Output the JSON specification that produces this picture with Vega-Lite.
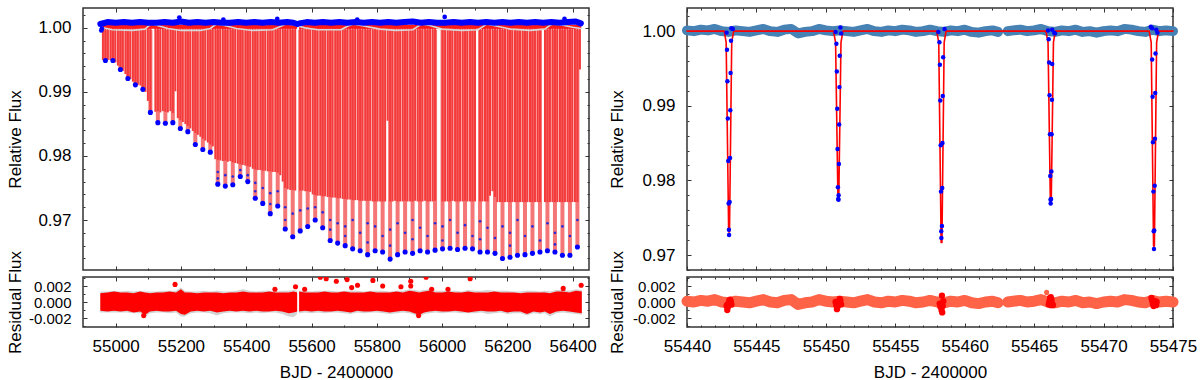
{
"$schema": "https://vega.github.io/schema/vega-lite/v6.json",
"background": "white",
"padding": {"left": 5, "top": 5, "right": 5, "bottom": 5},
"config": {
 "font": "Liberation Sans",
 "view": {"stroke": "#333333", "strokeWidth": 1.5},
 "axis": {"grid": false, "domain": false, "labelFontSize": 17, "titleFontSize": 17, "titleFontWeight": "normal", "labelColor": "#000000", "titleColor": "#000000", "tickColor": "#333333", "tickWidth": 1, "labelOverlap": false, "labelFlush": false},
 "line": {"strokeCap": "round", "strokeJoin": "round"}
},
"datasets": {
 "bars": [
{"t":54961,"d":0.995},{"t":54968.7,"d":0.995},{"t":54976.3,"d":0.995},{"t":54984,"d":0.995},{"t":54991.6,"d":0.995},{"t":54999.3,"d":0.9946},{"t":55006.9,"d":0.9941},{"t":55014.6,"d":0.9937},{"t":55022.2,"d":0.9933},{"t":55029.9,"d":0.9928},{"t":55037.5,"d":0.9924},{"t":55045.2,"d":0.992},{"t":55052.8,"d":0.9916},{"t":55060.5,"d":0.9913},{"t":55068.1,"d":0.9911},{"t":55075.8,"d":0.991},{"t":55083.4,"d":0.9907},{"t":55091.1,"d":0.99},{"t":55098.7,"d":0.9886},{"t":55106.4,"d":0.9871},
{"t":55121.7,"d":0.9869},{"t":55129.3,"d":0.987},{"t":55137,"d":0.9868},{"t":55144.6,"d":0.987},{"t":55152.3,"d":0.9869},{"t":55159.9,"d":0.9868},{"t":55167.6,"d":0.987},{"t":55175.2,"d":0.9867},{"t":55182.9,"d":0.9901},{"t":55190.5,"d":0.9859},{"t":55198.2,"d":0.9856},{"t":55205.8,"d":0.9853},{"t":55213.5,"d":0.985},{"t":55221.1,"d":0.9847},{"t":55228.8,"d":0.9843},{"t":55236.4,"d":0.9839},{"t":55244.1,"d":0.9836},{"t":55251.7,"d":0.9833},{"t":55259.4,"d":0.983},{"t":55267,"d":0.9827},{"t":55274.7,"d":0.9824},{"t":55282.3,"d":0.9821},{"t":55290,"d":0.9818},{"t":55297.6,"d":0.9815},
{"t":55305.3,"d":0.9795},{"t":55312.9,"d":0.9794},{"t":55320.6,"d":0.9793},{"t":55328.2,"d":0.9792},{"t":55335.9,"d":0.9793},{"t":55343.5,"d":0.9791},{"t":55351.2,"d":0.9792},{"t":55358.8,"d":0.979},{"t":55366.5,"d":0.9789},{"t":55374.1,"d":0.9788},{"t":55381.8,"d":0.9787},{"t":55389.4,"d":0.9786},{"t":55397.1,"d":0.9785},{"t":55404.7,"d":0.9784},{"t":55412.4,"d":0.9783},{"t":55420,"d":0.978},{"t":55427.7,"d":0.9779},{"t":55435.3,"d":0.9778},{"t":55443,"d":0.9778},{"t":55450.6,"d":0.9777},{"t":55458.3,"d":0.9777},{"t":55465.9,"d":0.9776},{"t":55473.6,"d":0.9776},{"t":55481.2,"d":0.9775},{"t":55488.9,"d":0.9775},{"t":55496.5,"d":0.9774},{"t":55504.2,"d":0.977},{"t":55511.8,"d":0.976},{"t":55519.5,"d":0.975},{"t":55527.1,"d":0.9748},{"t":55534.8,"d":0.9747},{"t":55542.4,"d":0.9747},{"t":55550.1,"d":0.9746},
{"t":55565.4,"d":0.9746},{"t":55573,"d":0.9746},{"t":55580.7,"d":0.9745},{"t":55588.3,"d":0.9745},{"t":55596,"d":0.9744},{"t":55603.6,"d":0.974},{"t":55611.3,"d":0.9739},{"t":55618.9,"d":0.9738},{"t":55626.6,"d":0.9738},{"t":55634.2,"d":0.9737},{"t":55641.9,"d":0.9737},{"t":55649.5,"d":0.9736},{"t":55657.2,"d":0.9736},{"t":55664.8,"d":0.9735},{"t":55672.5,"d":0.9735},{"t":55680.1,"d":0.9734},{"t":55687.8,"d":0.9734},{"t":55695.4,"d":0.9733},{"t":55703.1,"d":0.9733},{"t":55710.7,"d":0.9732},{"t":55718.4,"d":0.9732},{"t":55726,"d":0.9731},{"t":55733.7,"d":0.9731},{"t":55741.3,"d":0.9731},{"t":55749,"d":0.973},{"t":55756.6,"d":0.973},{"t":55764.3,"d":0.973},{"t":55771.9,"d":0.973},{"t":55779.6,"d":0.973},{"t":55787.2,"d":0.9729},{"t":55794.9,"d":0.9729},{"t":55802.5,"d":0.9729},{"t":55810.2,"d":0.9729},{"t":55817.8,"d":0.9729},{"t":55825.5,"d":0.9729},{"t":55833.1,"d":0.9855},{"t":55840.8,"d":0.9729},{"t":55848.4,"d":0.9729},{"t":55856.1,"d":0.973},{"t":55863.7,"d":0.9729},{"t":55871.4,"d":0.9729},{"t":55879,"d":0.9729},{"t":55886.7,"d":0.973},{"t":55894.3,"d":0.9729},{"t":55902,"d":0.9729},{"t":55909.6,"d":0.9729},{"t":55917.3,"d":0.973},{"t":55924.9,"d":0.9729},{"t":55932.6,"d":0.9729},{"t":55940.2,"d":0.9729},{"t":55947.9,"d":0.973},{"t":55955.5,"d":0.9729},{"t":55963.2,"d":0.9729},{"t":55970.8,"d":0.9729},{"t":55978.5,"d":0.973},
{"t":56001.4,"d":0.9729},{"t":56009.1,"d":0.9729},{"t":56016.7,"d":0.9729},{"t":56024.4,"d":0.9729},{"t":56032,"d":0.973},{"t":56039.7,"d":0.9729},{"t":56047.3,"d":0.9729},{"t":56055,"d":0.9729},{"t":56062.6,"d":0.9729},{"t":56070.3,"d":0.973},{"t":56077.9,"d":0.9729},{"t":56085.6,"d":0.9729},{"t":56093.2,"d":0.9729},{"t":56100.9,"d":0.9729},{"t":56116.2,"d":0.9729},{"t":56123.8,"d":0.9729},{"t":56131.5,"d":0.9729},{"t":56139.1,"d":0.9729},{"t":56146.8,"d":0.9738},{"t":56154.4,"d":0.9745},{"t":56162.1,"d":0.9736},{"t":56169.7,"d":0.9728},{"t":56177.4,"d":0.9728},{"t":56185,"d":0.9728},{"t":56192.7,"d":0.9728},{"t":56200.3,"d":0.9728},{"t":56208,"d":0.9728},{"t":56215.6,"d":0.9728},{"t":56223.3,"d":0.9728},{"t":56230.9,"d":0.9728},{"t":56238.6,"d":0.9728},{"t":56246.2,"d":0.9728},{"t":56253.9,"d":0.9728},{"t":56261.5,"d":0.9728},{"t":56269.2,"d":0.9728},{"t":56276.8,"d":0.9728},{"t":56284.5,"d":0.9728},{"t":56292.1,"d":0.9728},{"t":56299.8,"d":0.9728},{"t":56315.1,"d":0.9728},{"t":56322.7,"d":0.9728},{"t":56330.4,"d":0.9728},{"t":56338,"d":0.9728},{"t":56345.7,"d":0.9728},{"t":56353.3,"d":0.9728},{"t":56361,"d":0.9728},{"t":56368.6,"d":0.9728},{"t":56376.3,"d":0.9728},{"t":56383.9,"d":0.9728},{"t":56391.6,"d":0.9728},{"t":56399.2,"d":0.9728},{"t":56406.9,"d":0.9728},{"t":56414.5,"d":0.9728},{"t":56422.2,"d":0.9935}
 ],
 "deep": [
{"t":54968.7,"d":0.9949},{"t":54991.6,"d":0.9949},{"t":55014.6,"d":0.9935},{"t":55037.5,"d":0.9921},{"t":55060.5,"d":0.9911},{"t":55083.4,"d":0.9904},{"t":55106.4,"d":0.9868},{"t":55129.3,"d":0.9852},{"t":55152.3,"d":0.9851},{"t":55175.2,"d":0.9852},{"t":55198.2,"d":0.9843},{"t":55221.1,"d":0.9838},{"t":55244.1,"d":0.9818},{"t":55267,"d":0.981},{"t":55290,"d":0.9806},{"t":55312.9,"d":0.9756},{"t":55335.9,"d":0.9753},{"t":55358.8,"d":0.9755},{"t":55381.8,"d":0.9768},{"t":55404.7,"d":0.976},{"t":55427.7,"d":0.9734},{"t":55450.6,"d":0.9726},{"t":55473.6,"d":0.971},{"t":55496.5,"d":0.9722},{"t":55519.5,"d":0.9686},{"t":55542.4,"d":0.9674},{"t":55565.4,"d":0.9683},{"t":55588.3,"d":0.969},{"t":55611.3,"d":0.97},{"t":55634.2,"d":0.9688},{"t":55657.2,"d":0.9668},{"t":55680.1,"d":0.9664},{"t":55703.1,"d":0.966},{"t":55726,"d":0.9655},{"t":55749,"d":0.9652},{"t":55771.9,"d":0.9646},{"t":55794.9,"d":0.9652},{"t":55817.8,"d":0.965},{"t":55840.8,"d":0.9639},{"t":55863.7,"d":0.9646},{"t":55886.7,"d":0.965},{"t":55909.6,"d":0.9648},{"t":55932.6,"d":0.9652},{"t":55955.5,"d":0.965},{"t":55978.5,"d":0.9653},{"t":56001.4,"d":0.9655},{"t":56024.4,"d":0.9656},{"t":56047.3,"d":0.9654},{"t":56070.3,"d":0.9656},{"t":56093.2,"d":0.9655},{"t":56116.2,"d":0.965},{"t":56139.1,"d":0.965},{"t":56162.1,"d":0.9648},{"t":56185,"d":0.964},{"t":56208,"d":0.9642},{"t":56230.9,"d":0.9645},{"t":56253.9,"d":0.9646},{"t":56276.8,"d":0.9648},{"t":56299.8,"d":0.965},{"t":56322.7,"d":0.9652},{"t":56345.7,"d":0.965},{"t":56368.6,"d":0.9645},{"t":56391.6,"d":0.9645},{"t":56414.5,"d":0.9658}
 ],
 "mid": [
{"t":55312.9,"f":0.9775},{"t":55312.9,"f":0.9765},{"t":55335.9,"f":0.977},{"t":55358.8,"f":0.9768},{"t":55381.8,"f":0.9778},{"t":55404.7,"f":0.977},{"t":55427.7,"f":0.9758},{"t":55427.7,"f":0.9745},{"t":55450.6,"f":0.975},{"t":55473.6,"f":0.9742},{"t":55473.6,"f":0.9725},{"t":55496.5,"f":0.9745},{"t":55519.5,"f":0.972},{"t":55519.5,"f":0.97},{"t":55542.4,"f":0.971},{"t":55565.4,"f":0.9715},{"t":55588.3,"f":0.9718},{"t":55611.3,"f":0.972},{"t":55634.2,"f":0.9712},{"t":55657.2,"f":0.97},{"t":55657.2,"f":0.9685},{"t":55680.1,"f":0.9695},{"t":55703.1,"f":0.969},{"t":55703.1,"f":0.9675},{"t":55726,"f":0.97},{"t":55749,"f":0.968},{"t":55771.9,"f":0.9695},{"t":55771.9,"f":0.9665},{"t":55794.9,"f":0.969},{"t":55817.8,"f":0.9675},{"t":55840.8,"f":0.9685},{"t":55840.8,"f":0.966},{"t":55863.7,"f":0.9695},{"t":55886.7,"f":0.968},{"t":55909.6,"f":0.97},{"t":55909.6,"f":0.967},{"t":55932.6,"f":0.9688},{"t":55955.5,"f":0.9675},{"t":55978.5,"f":0.9695},{"t":56001.4,"f":0.969},{"t":56001.4,"f":0.9668},{"t":56024.4,"f":0.97},{"t":56047.3,"f":0.968},{"t":56070.3,"f":0.9692},{"t":56093.2,"f":0.9675},{"t":56116.2,"f":0.9698},{"t":56116.2,"f":0.967},{"t":56139.1,"f":0.9688},{"t":56162.1,"f":0.9672},{"t":56185,"f":0.969},{"t":56208,"f":0.968},{"t":56208,"f":0.966},{"t":56230.9,"f":0.97},{"t":56253.9,"f":0.9675},{"t":56276.8,"f":0.969},{"t":56299.8,"f":0.9668},{"t":56322.7,"f":0.9695},{"t":56345.7,"f":0.968},{"t":56345.7,"f":0.9662},{"t":56368.6,"f":0.969},{"t":56391.6,"f":0.9675},{"t":56414.5,"f":0.97}
 ],
 "redband": [{"t1":54955,"t2":55556},{"t1":55562,"t2":56426}],
 "wave": [
{"t":54955,"f":1.0001},{"t":54990,"f":0.9997},{"t":55050,"f":0.9996},{"t":55090,"f":0.9998},{"t":55108,"f":1.0006},{"t":55125,"f":1.0004},{"t":55160,"f":0.9999},{"t":55200,"f":0.9996},{"t":55260,"f":0.9996},{"t":55290,"f":0.9999},{"t":55308,"f":1.0006},{"t":55330,"f":1.0004},{"t":55370,"f":0.9999},{"t":55420,"f":0.9996},{"t":55480,"f":0.9997},{"t":55505,"f":1.0002},{"t":55520,"f":1.0006},{"t":55545,"f":1.0005},{"t":55558,"f":1.0003},{"t":55580,"f":1.0},{"t":55620,"f":0.9997},{"t":55690,"f":0.9997},{"t":55712,"f":1.0003},{"t":55728,"f":1.0006},{"t":55760,"f":1.0003},{"t":55810,"f":0.9998},{"t":55860,"f":0.9996},{"t":55910,"f":0.9997},{"t":55925,"f":1.0002},{"t":55937,"f":1.0006},{"t":55960,"f":1.0004},{"t":56000,"f":0.9998},{"t":56060,"f":0.9996},{"t":56110,"f":0.9997},{"t":56125,"f":1.0002},{"t":56137,"f":1.0006},{"t":56165,"f":1.0003},{"t":56210,"f":0.9998},{"t":56270,"f":0.9996},{"t":56315,"f":0.9998},{"t":56330,"f":1.0004},{"t":56340,"f":1.0006},{"t":56370,"f":1.0004},{"t":56400,"f":1.0001},{"t":56425,"f":0.9999}
 ],
 "topband": [
{"t":54953,"f":1.0006,"s":1},{"t":54975,"f":1.0009,"s":1},{"t":55000,"f":1.0008,"s":1},{"t":55025,"f":1.0009,"s":1},{"t":55050,"f":1.0008,"s":1},{"t":55075,"f":1.0009,"s":1},{"t":55100,"f":1.0008,"s":1},{"t":55125,"f":1.0008,"s":1},{"t":55150,"f":1.0009,"s":1},{"t":55175,"f":1.0008,"s":1},{"t":55200,"f":1.001,"s":1},{"t":55225,"f":1.0008,"s":1},{"t":55250,"f":1.0009,"s":1},{"t":55275,"f":1.0008,"s":1},{"t":55300,"f":1.0009,"s":1},{"t":55325,"f":1.0008,"s":1},{"t":55350,"f":1.0008,"s":1},{"t":55375,"f":1.0009,"s":1},{"t":55400,"f":1.0008,"s":1},{"t":55425,"f":1.0009,"s":1},{"t":55450,"f":1.0008,"s":1},{"t":55475,"f":1.0009,"s":1},{"t":55500,"f":1.0008,"s":1},{"t":55525,"f":1.0009,"s":1},{"t":55545,"f":1.0008,"s":1},{"t":55556,"f":1.0006,"s":1},
{"t":55562,"f":1.0007,"s":2},{"t":55585,"f":1.0009,"s":2},{"t":55610,"f":1.0008,"s":2},{"t":55635,"f":1.0009,"s":2},{"t":55660,"f":1.0008,"s":2},{"t":55685,"f":1.0009,"s":2},{"t":55710,"f":1.0008,"s":2},{"t":55735,"f":1.0009,"s":2},{"t":55760,"f":1.0008,"s":2},{"t":55785,"f":1.0009,"s":2},{"t":55810,"f":1.0008,"s":2},{"t":55835,"f":1.0009,"s":2},{"t":55860,"f":1.0008,"s":2},{"t":55885,"f":1.0009,"s":2},{"t":55910,"f":1.001,"s":2},{"t":55935,"f":1.0008,"s":2},{"t":55960,"f":1.0009,"s":2},{"t":55985,"f":1.0008,"s":2},{"t":56010,"f":1.0008,"s":2},{"t":56035,"f":1.0009,"s":2},{"t":56060,"f":1.0008,"s":2},{"t":56085,"f":1.0009,"s":2},{"t":56110,"f":1.0008,"s":2},{"t":56135,"f":1.0009,"s":2},{"t":56160,"f":1.0008,"s":2},{"t":56185,"f":1.0009,"s":2},{"t":56210,"f":1.0008,"s":2},{"t":56235,"f":1.0009,"s":2},{"t":56260,"f":1.0008,"s":2},{"t":56285,"f":1.0009,"s":2},{"t":56310,"f":1.0008,"s":2},{"t":56335,"f":1.0009,"s":2},{"t":56360,"f":1.0008,"s":2},{"t":56385,"f":1.0009,"s":2},{"t":56410,"f":1.001,"s":2},{"t":56425,"f":1.0007,"s":2}
 ],
 "topout": [
{"t":55195,"f":1.0016},{"t":55330,"f":1.0013},{"t":55495,"f":1.0014},{"t":55740,"f":1.0013},{"t":56008,"f":1.0017},{"t":56375,"f":1.0014},{"t":54956,"f":0.9996},{"t":54958,"f":0.9999}
 ],
 "resL": [
{"t":54953,"lo":-0.0011,"hi":0.0011,"glo":-0.0013,"ghi":0.0013,"s":1},
{"t":54975,"lo":-0.0012,"hi":0.0012,"glo":-0.0013,"ghi":0.0013,"s":1},
{"t":54995,"lo":-0.0011,"hi":0.0013,"glo":-0.0013,"ghi":0.0014,"s":1},
{"t":55015,"lo":-0.0012,"hi":0.0012,"glo":-0.0013,"ghi":0.0013,"s":1},
{"t":55035,"lo":-0.0011,"hi":0.0012,"glo":-0.0013,"ghi":0.0014,"s":1},
{"t":55055,"lo":-0.0013,"hi":0.0011,"glo":-0.0014,"ghi":0.0013,"s":1},
{"t":55075,"lo":-0.0012,"hi":0.0013,"glo":-0.0014,"ghi":0.0014,"s":1},
{"t":55090,"lo":-0.0016,"hi":0.0012,"glo":-0.0019,"ghi":0.0013,"s":1},
{"t":55105,"lo":-0.0012,"hi":0.0011,"glo":-0.0014,"ghi":0.0013,"s":1},
{"t":55125,"lo":-0.0011,"hi":0.0012,"glo":-0.0013,"ghi":0.0013,"s":1},
{"t":55145,"lo":-0.0012,"hi":0.0012,"glo":-0.0013,"ghi":0.0014,"s":1},
{"t":55165,"lo":-0.0012,"hi":0.0013,"glo":-0.0014,"ghi":0.0014,"s":1},
{"t":55185,"lo":-0.0011,"hi":0.0012,"glo":-0.0013,"ghi":0.0014,"s":1},
{"t":55200,"lo":-0.0015,"hi":0.0016,"glo":-0.0018,"ghi":0.0018,"s":1},
{"t":55212,"lo":-0.0016,"hi":0.0012,"glo":-0.0018,"ghi":0.0014,"s":1},
{"t":55230,"lo":-0.0012,"hi":0.0012,"glo":-0.0014,"ghi":0.0013,"s":1},
{"t":55250,"lo":-0.0011,"hi":0.0011,"glo":-0.0013,"ghi":0.0013,"s":1},
{"t":55270,"lo":-0.0012,"hi":0.0012,"glo":-0.0013,"ghi":0.0014,"s":1},
{"t":55290,"lo":-0.0011,"hi":0.0012,"glo":-0.0014,"ghi":0.0013,"s":1},
{"t":55310,"lo":-0.0013,"hi":0.0012,"glo":-0.0017,"ghi":0.0014,"s":1},
{"t":55330,"lo":-0.0012,"hi":0.0011,"glo":-0.0014,"ghi":0.0013,"s":1},
{"t":55350,"lo":-0.0011,"hi":0.0012,"glo":-0.0013,"ghi":0.0013,"s":1},
{"t":55370,"lo":-0.0012,"hi":0.0012,"glo":-0.0013,"ghi":0.0014,"s":1},
{"t":55390,"lo":-0.0011,"hi":0.0013,"glo":-0.0013,"ghi":0.0016,"s":1},
{"t":55410,"lo":-0.0012,"hi":0.0012,"glo":-0.0014,"ghi":0.0014,"s":1},
{"t":55430,"lo":-0.0011,"hi":0.0012,"glo":-0.0013,"ghi":0.0013,"s":1},
{"t":55450,"lo":-0.0012,"hi":0.0012,"glo":-0.0014,"ghi":0.0014,"s":1},
{"t":55470,"lo":-0.0012,"hi":0.0013,"glo":-0.0013,"ghi":0.0014,"s":1},
{"t":55490,"lo":-0.0011,"hi":0.0012,"glo":-0.0013,"ghi":0.0013,"s":1},
{"t":55510,"lo":-0.0012,"hi":0.0012,"glo":-0.0015,"ghi":0.0014,"s":1},
{"t":55530,"lo":-0.0014,"hi":0.0012,"glo":-0.0018,"ghi":0.0014,"s":1},
{"t":55545,"lo":-0.0013,"hi":0.0013,"glo":-0.0019,"ghi":0.0015,"s":1},
{"t":55556,"lo":-0.0012,"hi":0.0012,"glo":-0.0015,"ghi":0.0014,"s":1},
{"t":55562,"lo":-0.0012,"hi":0.0013,"glo":-0.0014,"ghi":0.0014,"s":2},
{"t":55580,"lo":-0.0011,"hi":0.0012,"glo":-0.0013,"ghi":0.0014,"s":2},
{"t":55600,"lo":-0.0012,"hi":0.0012,"glo":-0.0014,"ghi":0.0013,"s":2},
{"t":55620,"lo":-0.0011,"hi":0.0012,"glo":-0.0013,"ghi":0.0014,"s":2},
{"t":55640,"lo":-0.0012,"hi":0.0013,"glo":-0.0014,"ghi":0.0014,"s":2},
{"t":55660,"lo":-0.0012,"hi":0.0012,"glo":-0.0013,"ghi":0.0014,"s":2},
{"t":55680,"lo":-0.0011,"hi":0.0012,"glo":-0.0013,"ghi":0.0013,"s":2},
{"t":55700,"lo":-0.0012,"hi":0.0013,"glo":-0.0014,"ghi":0.0014,"s":2},
{"t":55720,"lo":-0.0013,"hi":0.0012,"glo":-0.0015,"ghi":0.0014,"s":2},
{"t":55740,"lo":-0.0011,"hi":0.0012,"glo":-0.0013,"ghi":0.0014,"s":2},
{"t":55760,"lo":-0.0012,"hi":0.0012,"glo":-0.0014,"ghi":0.0013,"s":2},
{"t":55780,"lo":-0.0012,"hi":0.0013,"glo":-0.0013,"ghi":0.0014,"s":2},
{"t":55800,"lo":-0.0011,"hi":0.0012,"glo":-0.0013,"ghi":0.0014,"s":2},
{"t":55820,"lo":-0.0012,"hi":0.0012,"glo":-0.0014,"ghi":0.0014,"s":2},
{"t":55840,"lo":-0.0013,"hi":0.0012,"glo":-0.0015,"ghi":0.0013,"s":2},
{"t":55860,"lo":-0.0012,"hi":0.0013,"glo":-0.0014,"ghi":0.0014,"s":2},
{"t":55880,"lo":-0.0011,"hi":0.0012,"glo":-0.0013,"ghi":0.0014,"s":2},
{"t":55900,"lo":-0.0012,"hi":0.0014,"glo":-0.0014,"ghi":0.0016,"s":2},
{"t":55915,"lo":-0.0014,"hi":0.0013,"glo":-0.0016,"ghi":0.0015,"s":2},
{"t":55930,"lo":-0.0016,"hi":0.0012,"glo":-0.0019,"ghi":0.0014,"s":2},
{"t":55945,"lo":-0.0013,"hi":0.0013,"glo":-0.0015,"ghi":0.0015,"s":2},
{"t":55960,"lo":-0.0012,"hi":0.0014,"glo":-0.0014,"ghi":0.0016,"s":2},
{"t":55980,"lo":-0.0011,"hi":0.0012,"glo":-0.0013,"ghi":0.0014,"s":2},
{"t":56000,"lo":-0.0012,"hi":0.0012,"glo":-0.0014,"ghi":0.0014,"s":2},
{"t":56020,"lo":-0.0012,"hi":0.0013,"glo":-0.0013,"ghi":0.0014,"s":2},
{"t":56040,"lo":-0.0011,"hi":0.0012,"glo":-0.0013,"ghi":0.0014,"s":2},
{"t":56060,"lo":-0.0012,"hi":0.0012,"glo":-0.0014,"ghi":0.0013,"s":2},
{"t":56080,"lo":-0.0013,"hi":0.0013,"glo":-0.0014,"ghi":0.0015,"s":2},
{"t":56100,"lo":-0.0012,"hi":0.0012,"glo":-0.0014,"ghi":0.0014,"s":2},
{"t":56120,"lo":-0.0011,"hi":0.0012,"glo":-0.0013,"ghi":0.0014,"s":2},
{"t":56140,"lo":-0.0012,"hi":0.0012,"glo":-0.0015,"ghi":0.0015,"s":2},
{"t":56160,"lo":-0.0012,"hi":0.0013,"glo":-0.0014,"ghi":0.0014,"s":2},
{"t":56180,"lo":-0.0011,"hi":0.0012,"glo":-0.0013,"ghi":0.0014,"s":2},
{"t":56200,"lo":-0.0013,"hi":0.0012,"glo":-0.0015,"ghi":0.0014,"s":2},
{"t":56220,"lo":-0.0012,"hi":0.0012,"glo":-0.0014,"ghi":0.0013,"s":2},
{"t":56240,"lo":-0.0012,"hi":0.0011,"glo":-0.0014,"ghi":0.0013,"s":2},
{"t":56260,"lo":-0.0015,"hi":0.0012,"glo":-0.0017,"ghi":0.0014,"s":2},
{"t":56280,"lo":-0.0012,"hi":0.0012,"glo":-0.0014,"ghi":0.0014,"s":2},
{"t":56300,"lo":-0.0013,"hi":0.0012,"glo":-0.0015,"ghi":0.0013,"s":2},
{"t":56315,"lo":-0.0012,"hi":0.0012,"glo":-0.0014,"ghi":0.0014,"s":2},
{"t":56330,"lo":-0.0015,"hi":0.0011,"glo":-0.0018,"ghi":0.0013,"s":2},
{"t":56350,"lo":-0.0012,"hi":0.0013,"glo":-0.0014,"ghi":0.0015,"s":2},
{"t":56370,"lo":-0.0011,"hi":0.0013,"glo":-0.0013,"ghi":0.0015,"s":2},
{"t":56390,"lo":-0.0012,"hi":0.0012,"glo":-0.0014,"ghi":0.0014,"s":2},
{"t":56410,"lo":-0.0013,"hi":0.0014,"glo":-0.0015,"ghi":0.0016,"s":2},
{"t":56428,"lo":-0.0014,"hi":0.0013,"glo":-0.0016,"ghi":0.0015,"s":2}
 ],
 "outL": [
{"t":55086,"r":-0.0017},{"t":55182,"r":0.0022},{"t":55488,"r":0.0016},{"t":55551,"r":0.0019},{"t":55579,"r":0.0016},{"t":55627,"r":0.0031},{"t":55645,"r":0.0029},{"t":55676,"r":0.0026},{"t":55709,"r":0.0028},{"t":55723,"r":0.0018},{"t":55741,"r":0.0021},{"t":55788,"r":0.0027},{"t":55818,"r":0.002},{"t":55874,"r":0.0019},{"t":55904,"r":0.0026},{"t":55904,"r":0.002},{"t":55928,"r":-0.0017},{"t":55951,"r":0.0031},{"t":55968,"r":0.0016},{"t":56018,"r":0.0016},{"t":56086,"r":0.0029},{"t":56371,"r":0.0017},{"t":56426,"r":0.0021}
 ],
 "rband": [
{"t":55440,"f":1.0001,"s":1},{"t":55440.5,"f":1.0,"s":1},{"t":55441,"f":1.0002,"s":1},{"t":55441.5,"f":1.0001,"s":1},{"t":55442,"f":1.0003,"s":1},{"t":55442.5,"f":1.0,"s":1},{"t":55443,"f":0.9999,"s":1},{"t":55443.5,"f":1.0001,"s":1},{"t":55444,"f":1.0,"s":1},{"t":55444.5,"f":0.9999,"s":1},{"t":55445,"f":1.0001,"s":1},{"t":55445.5,"f":1.0003,"s":1},{"t":55446,"f":1.0,"s":1},{"t":55446.5,"f":0.9999,"s":1},{"t":55447,"f":1.0002,"s":1},{"t":55447.5,"f":1.0003,"s":1},{"t":55448,"f":0.9997,"s":1},{"t":55448.5,"f":0.9999,"s":1},{"t":55449,"f":1.0,"s":1},{"t":55449.5,"f":1.0003,"s":1},{"t":55450,"f":1.0001,"s":1},{"t":55450.5,"f":1.0,"s":1},{"t":55451,"f":1.0001,"s":1},{"t":55451.5,"f":1.0,"s":1},{"t":55452,"f":0.9999,"s":1},{"t":55452.5,"f":1.0001,"s":1},{"t":55453,"f":1.0003,"s":1},{"t":55453.5,"f":1.0,"s":1},{"t":55454,"f":0.9999,"s":1},{"t":55454.5,"f":1.0001,"s":1},{"t":55455,"f":1.0,"s":1},{"t":55455.5,"f":1.0002,"s":1},{"t":55456,"f":1.0001,"s":1},{"t":55456.5,"f":0.9999,"s":1},{"t":55457,"f":1.0,"s":1},{"t":55457.5,"f":1.0002,"s":1},{"t":55458,"f":1.0,"s":1},{"t":55458.5,"f":0.9999,"s":1},{"t":55459,"f":1.0001,"s":1},{"t":55459.5,"f":1.0,"s":1},{"t":55460,"f":1.0002,"s":1},{"t":55460.5,"f":0.9999,"s":1},{"t":55461,"f":0.9998,"s":1},{"t":55461.5,"f":1.0,"s":1},{"t":55462,"f":1.0001,"s":1},{"t":55462.4,"f":0.9999,"s":1},
{"t":55463.1,"f":1.0,"s":2},{"t":55463.5,"f":1.0001,"s":2},{"t":55464,"f":1.0002,"s":2},{"t":55464.5,"f":1.0,"s":2},{"t":55465,"f":1.0001,"s":2},{"t":55465.5,"f":1.0003,"s":2},{"t":55466,"f":1.0,"s":2},{"t":55466.5,"f":0.9999,"s":2},{"t":55467,"f":1.0001,"s":2},{"t":55467.5,"f":1.0,"s":2},{"t":55468,"f":1.0002,"s":2},{"t":55468.5,"f":0.9999,"s":2},{"t":55469,"f":1.0,"s":2},{"t":55469.5,"f":0.9998,"s":2},{"t":55470,"f":1.0,"s":2},{"t":55470.5,"f":1.0001,"s":2},{"t":55471,"f":1.0,"s":2},{"t":55471.5,"f":1.0003,"s":2},{"t":55472,"f":1.0002,"s":2},{"t":55472.5,"f":1.0,"s":2},{"t":55473,"f":0.9999,"s":2},{"t":55473.5,"f":1.0002,"s":2},{"t":55474,"f":1.0,"s":2},{"t":55474.5,"f":1.0001,"s":2},{"t":55475,"f":1.0,"s":2}
 ],
 "rmodel": [
{"t":55440,"f":1.0},{"t":55442.68,"f":1.0},{"t":55442.82,"f":0.9985},{"t":55443.0,"f":0.9731},{"t":55443.06,"f":0.9731},{"t":55443.22,"f":0.9985},{"t":55443.36,"f":1.0},
{"t":55450.55,"f":1.0},{"t":55450.7,"f":0.9985},{"t":55450.87,"f":0.9775},{"t":55450.93,"f":0.9775},{"t":55451.09,"f":0.9985},{"t":55451.23,"f":1.0},
{"t":55457.98,"f":1.0},{"t":55458.13,"f":0.9985},{"t":55458.3,"f":0.9717},{"t":55458.36,"f":0.9717},{"t":55458.52,"f":0.9985},{"t":55458.66,"f":1.0},
{"t":55465.85,"f":1.0},{"t":55466.0,"f":0.9985},{"t":55466.17,"f":0.9768},{"t":55466.23,"f":0.9768},{"t":55466.39,"f":0.9985},{"t":55466.53,"f":1.0},
{"t":55473.28,"f":1.0},{"t":55473.43,"f":0.9985},{"t":55473.6,"f":0.9712},{"t":55473.66,"f":0.9712},{"t":55473.82,"f":0.9985},{"t":55473.96,"f":1.0},{"t":55475,"f":1.0}
 ],
 "rpts": [
{"t":55442.88,"f":0.9975},{"t":55442.91,"f":0.9933},{"t":55442.94,"f":0.9883},{"t":55442.97,"f":0.9826},{"t":55443.0,"f":0.9769},{"t":55443.02,"f":0.9734},{"t":55443.03,"f":0.9727},{"t":55443.17,"f":0.9987},{"t":55443.14,"f":0.9944},{"t":55443.12,"f":0.9894},{"t":55443.1,"f":0.983},{"t":55443.07,"f":0.9771},{"t":55442.85,"f":0.9998},{"t":55443.2,"f":1.0004},{"t":55443.3,"f":1.0003},
{"t":55450.76,"f":0.9983},{"t":55450.79,"f":0.9946},{"t":55450.82,"f":0.9896},{"t":55450.84,"f":0.9842},{"t":55450.87,"f":0.9791},{"t":55450.89,"f":0.9775},{"t":55451.0,"f":0.9967},{"t":55450.98,"f":0.9925},{"t":55450.96,"f":0.9875},{"t":55450.94,"f":0.9822},{"t":55450.92,"f":0.978},{"t":55450.91,"f":0.9774},{"t":55450.7,"f":0.9999},{"t":55451.05,"f":1.0005},{"t":55451.1,"f":0.9997},
{"t":55458.18,"f":0.9985},{"t":55458.21,"f":0.9955},{"t":55458.24,"f":0.9907},{"t":55458.27,"f":0.9847},{"t":55458.29,"f":0.9785},{"t":55458.31,"f":0.9732},{"t":55458.32,"f":0.9723},{"t":55458.45,"f":0.9965},{"t":55458.42,"f":0.9913},{"t":55458.4,"f":0.985},{"t":55458.38,"f":0.979},{"t":55458.36,"f":0.9739},{"t":55458.1,"f":0.9999},{"t":55458.55,"f":1.0003},
{"t":55466.05,"f":0.9989},{"t":55466.08,"f":0.9958},{"t":55466.11,"f":0.9914},{"t":55466.14,"f":0.9862},{"t":55466.16,"f":0.9806},{"t":55466.18,"f":0.9774},{"t":55466.19,"f":0.9769},{"t":55466.3,"f":1.0002},{"t":55466.3,"f":0.9956},{"t":55466.28,"f":0.9908},{"t":55466.26,"f":0.9862},{"t":55466.24,"f":0.9812},{"t":55466.22,"f":0.9775},{"t":55466.0,"f":1.0001},{"t":55466.45,"f":0.9998},{"t":55466.5,"f":0.9997},
{"t":55473.5,"f":0.9962},{"t":55473.53,"f":0.9912},{"t":55473.56,"f":0.9851},{"t":55473.59,"f":0.9785},{"t":55473.61,"f":0.9732},{"t":55473.63,"f":0.9708},{"t":55473.74,"f":0.997},{"t":55473.72,"f":0.9917},{"t":55473.7,"f":0.9856},{"t":55473.68,"f":0.9793},{"t":55473.65,"f":0.9733},{"t":55473.4,"f":1.0006},{"t":55473.5,"f":1.0004},{"t":55473.8,"f":1.0002},{"t":55473.88,"f":0.9998}
 ],
 "rres": [
{"t":55440,"r":0.0001,"s":1},{"t":55440.5,"r":0.0,"s":1},{"t":55441,"r":0.0002,"s":1},{"t":55441.5,"r":0.0001,"s":1},{"t":55442,"r":0.0003,"s":1},{"t":55442.5,"r":0.0,"s":1},{"t":55443,"r":-0.0001,"s":1},{"t":55443.5,"r":0.0001,"s":1},{"t":55444,"r":0.0,"s":1},{"t":55444.5,"r":-0.0001,"s":1},{"t":55445,"r":0.0001,"s":1},{"t":55445.5,"r":0.0003,"s":1},{"t":55446,"r":0.0,"s":1},{"t":55446.5,"r":-0.0001,"s":1},{"t":55447,"r":0.0002,"s":1},{"t":55447.5,"r":0.0003,"s":1},{"t":55448,"r":-0.0003,"s":1},{"t":55448.5,"r":-0.0001,"s":1},{"t":55449,"r":0.0,"s":1},{"t":55449.5,"r":0.0003,"s":1},{"t":55450,"r":0.0001,"s":1},{"t":55450.5,"r":0.0,"s":1},{"t":55451,"r":0.0001,"s":1},{"t":55451.5,"r":0.0,"s":1},{"t":55452,"r":-0.0001,"s":1},{"t":55452.5,"r":0.0001,"s":1},{"t":55453,"r":0.0003,"s":1},{"t":55453.5,"r":0.0,"s":1},{"t":55454,"r":-0.0001,"s":1},{"t":55454.5,"r":0.0001,"s":1},{"t":55455,"r":0.0,"s":1},{"t":55455.5,"r":0.0002,"s":1},{"t":55456,"r":0.0001,"s":1},{"t":55456.5,"r":-0.0001,"s":1},{"t":55457,"r":0.0,"s":1},{"t":55457.5,"r":0.0002,"s":1},{"t":55458,"r":0.0,"s":1},{"t":55458.5,"r":-0.0001,"s":1},{"t":55459,"r":0.0001,"s":1},{"t":55459.5,"r":0.0,"s":1},{"t":55460,"r":0.0002,"s":1},{"t":55460.5,"r":-0.0001,"s":1},{"t":55461,"r":-0.0002,"s":1},{"t":55461.5,"r":0.0,"s":1},{"t":55462,"r":0.0001,"s":1},{"t":55462.4,"r":-0.0001,"s":1},
{"t":55463.1,"r":0.0,"s":2},{"t":55463.5,"r":0.0001,"s":2},{"t":55464,"r":0.0002,"s":2},{"t":55464.5,"r":0.0,"s":2},{"t":55465,"r":0.0001,"s":2},{"t":55465.5,"r":0.0003,"s":2},{"t":55466,"r":0.0,"s":2},{"t":55466.5,"r":-0.0001,"s":2},{"t":55467,"r":0.0001,"s":2},{"t":55467.5,"r":0.0,"s":2},{"t":55468,"r":0.0002,"s":2},{"t":55468.5,"r":-0.0001,"s":2},{"t":55469,"r":0.0,"s":2},{"t":55469.5,"r":-0.0002,"s":2},{"t":55470,"r":0.0,"s":2},{"t":55470.5,"r":0.0001,"s":2},{"t":55471,"r":0.0,"s":2},{"t":55471.5,"r":0.0003,"s":2},{"t":55472,"r":0.0002,"s":2},{"t":55472.5,"r":0.0,"s":2},{"t":55473,"r":-0.0001,"s":2},{"t":55473.5,"r":0.0002,"s":2},{"t":55474,"r":0.0,"s":2},{"t":55474.5,"r":0.0001,"s":2},{"t":55475,"r":0.0,"s":2}
 ],
 "rresT": [
{"t":55442.85,"r":-0.0005},{"t":55442.9,"r":-0.001},{"t":55442.95,"r":-0.0006},{"t":55443.0,"r":-0.0002},{"t":55443.05,"r":0.0002},{"t":55443.1,"r":0.0003},{"t":55443.15,"r":0.0001},{"t":55443.2,"r":-0.0003},{"t":55442.92,"r":-0.0003},
{"t":55450.7,"r":0.0},{"t":55450.75,"r":-0.0004},{"t":55450.8,"r":-0.0009},{"t":55450.88,"r":-0.0005},{"t":55450.95,"r":0.0001},{"t":55451.0,"r":0.0004},{"t":55451.05,"r":0.0002},{"t":55451.1,"r":-0.0003},
{"t":55458.2,"r":-0.0002},{"t":55458.25,"r":-0.0006},{"t":55458.36,"r":0.0008},{"t":55458.33,"r":-0.001},{"t":55458.38,"r":-0.0013},{"t":55458.42,"r":-0.0005},{"t":55458.46,"r":0.0001},
{"t":55466.05,"r":-0.0003},{"t":55466.1,"r":0.0001},{"t":55466.15,"r":0.0005},{"t":55466.2,"r":0.0006},{"t":55466.25,"r":0.0003},{"t":55466.3,"r":-0.0002},{"t":55466.35,"r":-0.0004},{"t":55466.2,"r":-0.0004},
{"t":55473.45,"r":0.0005},{"t":55473.5,"r":0.0002},{"t":55473.55,"r":-0.0002},{"t":55473.6,"r":-0.0005},{"t":55473.67,"r":-0.0003},{"t":55473.72,"r":0.0001},{"t":55473.78,"r":-0.0004},{"t":55473.82,"r":0.0}
 ],
 "rout": [{"t":55465.9,"r":0.0012}]
},
"columns": 2,
"spacing": {"row": 7, "column": 98},
"bounds": "flush",
"concat": [
 {
  "width": 506, "height": 262,
  "resolve": {"axis": {"x": "independent", "y": "independent"}},
  "layer": [
   {"data": {"name": "deep"}, "mark": {"type": "rule", "color": "#f47676", "strokeWidth": 4},
    "encoding": {"x": {"field": "t", "type": "quantitative", "axis": null, "scale": {"domain": [54900, 56450], "nice": false, "zero": false}},
                 "y": {"field": "d", "type": "quantitative", "axis": null, "scale": {"domain": [0.9622, 1.0031], "nice": false, "zero": false}},
                 "y2": {"datum": 0.9997}}},
   {"data": {"name": "bars"}, "mark": {"type": "rule", "color": "#f43a3a", "strokeWidth": 2},
    "encoding": {"x": {"field": "t", "type": "quantitative", "axis": null},
                 "y": {"field": "d", "type": "quantitative", "axis": null},
                 "y2": {"datum": 1.0003}}},
   {"data": {"name": "mid"}, "mark": {"type": "circle", "color": "#2a2ad8", "size": 7, "opacity": 1},
    "encoding": {"x": {"field": "t", "type": "quantitative", "axis": null},
                 "y": {"field": "f", "type": "quantitative", "axis": null}}},
   {"data": {"name": "redband"}, "mark": {"type": "rule", "color": "#ff1a1a", "strokeWidth": 4},
    "encoding": {"x": {"field": "t1", "type": "quantitative", "axis": null}, "x2": {"field": "t2"},
                 "y": {"datum": 1.00018, "type": "quantitative", "axis": null}}},
   {"data": {"name": "wave"}, "mark": {"type": "line", "color": "#d8d8d8", "strokeWidth": 1.6},
    "encoding": {"x": {"field": "t", "type": "quantitative", "axis": null},
                 "y": {"field": "f", "type": "quantitative", "axis": null}}},
   {"data": {"name": "topband"}, "mark": {"type": "line", "color": "#0000ff", "strokeWidth": 6},
    "encoding": {"x": {"field": "t", "type": "quantitative",
                       "axis": {"orient": "top", "values": [55000,55100,55200,55300,55400,55500,55600,55700,55800,55900,56000,56100,56200,56300,56400], "labels": false, "title": null,
                                "tickSize": {"condition": {"test": "datum.value % 200 === 0", "value": -4}, "value": -2}}},
                 "y": {"field": "f", "type": "quantitative",
                       "axis": {"orient": "right", "values": [0.964,0.966,0.968,0.97,0.972,0.974,0.976,0.978,0.98,0.982,0.984,0.986,0.988,0.99,0.992,0.994,0.996,0.998,1,1.002], "labels": false, "title": null,
                                "tickSize": {"condition": {"test": "abs(round(datum.value*100)-datum.value*100) < 0.001", "value": -4}, "value": -2}}},
                 "detail": {"field": "s", "type": "nominal"}}},
   {"data": {"name": "topout"}, "mark": {"type": "circle", "color": "#0000ff", "size": 22, "opacity": 1},
    "encoding": {"x": {"field": "t", "type": "quantitative", "axis": null},
                 "y": {"field": "f", "type": "quantitative", "axis": null}}},
   {"data": {"name": "deep"}, "mark": {"type": "circle", "color": "#0000ff", "size": 26, "opacity": 1},
    "encoding": {"x": {"field": "t", "type": "quantitative",
                       "axis": {"orient": "bottom", "values": [55000,55100,55200,55300,55400,55500,55600,55700,55800,55900,56000,56100,56200,56300,56400], "labels": false, "title": null,
                                "tickSize": {"condition": {"test": "datum.value % 200 === 0", "value": -4}, "value": -2}}},
                 "y": {"field": "d", "type": "quantitative",
                       "axis": {"orient": "left", "values": [0.964,0.966,0.968,0.97,0.972,0.974,0.976,0.978,0.98,0.982,0.984,0.986,0.988,0.99,0.992,0.994,0.996,0.998,1,1.002],
                                "labelExpr": "abs(round(datum.value*100)-datum.value*100) < 0.001 ? format(datum.value, '.2f') : ''",
                                "tickSize": {"condition": {"test": "abs(round(datum.value*100)-datum.value*100) < 0.001", "value": -4}, "value": -2},
                                "labelPadding": 16,
                                "title": "Relative Flux", "titleAngle": 270, "titleX": -63, "titleY": 131, "titleAlign": "center", "titleBaseline": "alphabetic"}}}}
  ]
 },
 {
  "width": 486, "height": 262,
  "resolve": {"axis": {"x": "independent", "y": "independent"}},
  "layer": [
   {"data": {"name": "rband"}, "mark": {"type": "line", "color": "#4682b4", "strokeWidth": 10},
    "encoding": {"x": {"field": "t", "type": "quantitative", "scale": {"domain": [55440, 55475], "nice": false, "zero": false},
                       "axis": {"orient": "bottom", "values": [55440,55441,55442,55443,55444,55445,55446,55447,55448,55449,55450,55451,55452,55453,55454,55455,55456,55457,55458,55459,55460,55461,55462,55463,55464,55465,55466,55467,55468,55469,55470,55471,55472,55473,55474,55475], "labels": false, "title": null,
                                "tickSize": {"condition": {"test": "datum.value % 5 === 0", "value": -4}, "value": -2}}},
                 "y": {"field": "f", "type": "quantitative", "scale": {"domain": [0.968, 1.0031], "nice": false, "zero": false},
                       "axis": {"orient": "left", "values": [0.968,0.97,0.972,0.974,0.976,0.978,0.98,0.982,0.984,0.986,0.988,0.99,0.992,0.994,0.996,0.998,1,1.002],
                                "labelExpr": "abs(round(datum.value*100)-datum.value*100) < 0.001 ? format(datum.value, '.2f') : ''",
                                "tickSize": {"condition": {"test": "abs(round(datum.value*100)-datum.value*100) < 0.001", "value": -4}, "value": -2},
                                "labelPadding": 16,
                                "title": "Relative Flux", "titleAngle": 270, "titleX": -65, "titleY": 131, "titleAlign": "center", "titleBaseline": "alphabetic"}},
                 "detail": {"field": "s", "type": "nominal"}}},
   {"data": {"name": "rmodel"}, "mark": {"type": "line", "color": "#ff0000", "strokeWidth": 1.6},
    "encoding": {"x": {"field": "t", "type": "quantitative",
                       "axis": {"orient": "top", "values": [55440,55441,55442,55443,55444,55445,55446,55447,55448,55449,55450,55451,55452,55453,55454,55455,55456,55457,55458,55459,55460,55461,55462,55463,55464,55465,55466,55467,55468,55469,55470,55471,55472,55473,55474,55475], "labels": false, "title": null,
                                "tickSize": {"condition": {"test": "datum.value % 5 === 0", "value": -4}, "value": -2}}},
                 "y": {"field": "f", "type": "quantitative",
                       "axis": {"orient": "right", "values": [0.968,0.97,0.972,0.974,0.976,0.978,0.98,0.982,0.984,0.986,0.988,0.99,0.992,0.994,0.996,0.998,1,1.002], "labels": false, "title": null,
                                "tickSize": {"condition": {"test": "abs(round(datum.value*100)-datum.value*100) < 0.001", "value": -4}, "value": -2}}}}},
   {"data": {"name": "rpts"}, "mark": {"type": "circle", "color": "#0000ff", "size": 20, "opacity": 1},
    "encoding": {"x": {"field": "t", "type": "quantitative", "axis": null},
                 "y": {"field": "f", "type": "quantitative", "axis": null}}}
  ]
 },
 {
  "width": 506, "height": 50,
  "resolve": {"axis": {"x": "independent", "y": "independent"}},
  "layer": [
   {"data": {"name": "resL"}, "mark": {"type": "area", "color": "#d3d3d3", "opacity": 1},
    "encoding": {"x": {"field": "t", "type": "quantitative", "scale": {"domain": [54900, 56450], "nice": false, "zero": false},
                       "axis": {"orient": "bottom", "values": [55000,55100,55200,55300,55400,55500,55600,55700,55800,55900,56000,56100,56200,56300,56400],
                                "labelExpr": "datum.value % 200 === 0 ? format(datum.value, 'd') : ''",
                                "tickSize": {"condition": {"test": "datum.value % 200 === 0", "value": -4}, "value": -2},
                                "labelPadding": 15,
                                "title": "BJD - 2400000", "titleX": 253, "titleY": 50, "titleAlign": "center", "titleBaseline": "alphabetic"}},
                 "y": {"field": "glo", "type": "quantitative", "scale": {"domain": [-0.003125, 0.003125], "nice": false, "zero": false},
                       "axis": {"orient": "left", "values": [-0.003,-0.002,-0.001,0,0.001,0.002,0.003],
                                "labelExpr": "abs(round(datum.value*500)-datum.value*500) < 0.001 ? replace(format(datum.value, '.3f'), '\u2212', '-') : ''",
                                "tickSize": {"condition": {"test": "abs(round(datum.value*500)-datum.value*500) < 0.001", "value": -4}, "value": -2},
                                "labelPadding": 16, "labelFontSize": 15,
                                "title": "Residual Flux", "titleAngle": 270, "titleX": -63, "titleY": 25, "titleAlign": "center", "titleBaseline": "alphabetic"}},
                 "y2": {"field": "ghi"},
                 "detail": {"field": "s", "type": "nominal"}}},
   {"data": {"name": "resL"}, "mark": {"type": "area", "color": "#ff0000", "opacity": 1},
    "encoding": {"x": {"field": "t", "type": "quantitative",
                       "axis": {"orient": "top", "values": [55000,55100,55200,55300,55400,55500,55600,55700,55800,55900,56000,56100,56200,56300,56400], "labels": false, "title": null,
                                "tickSize": {"condition": {"test": "datum.value % 200 === 0", "value": -4}, "value": -2}}},
                 "y": {"field": "lo", "type": "quantitative",
                       "axis": {"orient": "right", "values": [-0.003,-0.002,-0.001,0,0.001,0.002,0.003], "labels": false, "title": null,
                                "tickSize": {"condition": {"test": "abs(round(datum.value*500)-datum.value*500) < 0.001", "value": -4}, "value": -2}}},
                 "y2": {"field": "hi"},
                 "detail": {"field": "s", "type": "nominal"}}},
   {"data": {"name": "outL"}, "mark": {"type": "circle", "color": "#ff0000", "size": 26, "opacity": 1, "clip": true},
    "encoding": {"x": {"field": "t", "type": "quantitative", "axis": null},
                 "y": {"field": "r", "type": "quantitative", "axis": null}}}
  ]
 },
 {
  "width": 486, "height": 50,
  "resolve": {"axis": {"x": "independent", "y": "independent"}},
  "layer": [
   {"data": {"name": "rres"}, "mark": {"type": "line", "color": "#ff6347", "strokeWidth": 11},
    "encoding": {"x": {"field": "t", "type": "quantitative", "scale": {"domain": [55440, 55475], "nice": false, "zero": false},
                       "axis": {"orient": "bottom", "values": [55440,55441,55442,55443,55444,55445,55446,55447,55448,55449,55450,55451,55452,55453,55454,55455,55456,55457,55458,55459,55460,55461,55462,55463,55464,55465,55466,55467,55468,55469,55470,55471,55472,55473,55474,55475],
                                "labelExpr": "datum.value % 5 === 0 ? format(datum.value, 'd') : ''",
                                "tickSize": {"condition": {"test": "datum.value % 5 === 0", "value": -4}, "value": -2},
                                "labelPadding": 15,
                                "title": "BJD - 2400000", "titleX": 243, "titleY": 50, "titleAlign": "center", "titleBaseline": "alphabetic"}},
                 "y": {"field": "r", "type": "quantitative", "scale": {"domain": [-0.003125, 0.003125], "nice": false, "zero": false},
                       "axis": {"orient": "left", "values": [-0.003,-0.002,-0.001,0,0.001,0.002,0.003],
                                "labelExpr": "abs(round(datum.value*500)-datum.value*500) < 0.001 ? replace(format(datum.value, '.3f'), '\u2212', '-') : ''",
                                "tickSize": {"condition": {"test": "abs(round(datum.value*500)-datum.value*500) < 0.001", "value": -4}, "value": -2},
                                "labelPadding": 16, "labelFontSize": 15,
                                "title": "Residual Flux", "titleAngle": 270, "titleX": -65, "titleY": 25, "titleAlign": "center", "titleBaseline": "alphabetic"}},
                 "detail": {"field": "s", "type": "nominal"}}},
   {"data": {"name": "rresT"}, "mark": {"type": "circle", "color": "#ff0000", "size": 40, "opacity": 1},
    "encoding": {"x": {"field": "t", "type": "quantitative",
                       "axis": {"orient": "top", "values": [55440,55441,55442,55443,55444,55445,55446,55447,55448,55449,55450,55451,55452,55453,55454,55455,55456,55457,55458,55459,55460,55461,55462,55463,55464,55465,55466,55467,55468,55469,55470,55471,55472,55473,55474,55475], "labels": false, "title": null,
                                "tickSize": {"condition": {"test": "datum.value % 5 === 0", "value": -4}, "value": -2}}},
                 "y": {"field": "r", "type": "quantitative",
                       "axis": {"orient": "right", "values": [-0.003,-0.002,-0.001,0,0.001,0.002,0.003], "labels": false, "title": null,
                                "tickSize": {"condition": {"test": "abs(round(datum.value*500)-datum.value*500) < 0.001", "value": -4}, "value": -2}}}}},
   {"data": {"name": "rout"}, "mark": {"type": "circle", "color": "#ff6347", "size": 26, "opacity": 1},
    "encoding": {"x": {"field": "t", "type": "quantitative", "axis": null},
                 "y": {"field": "r", "type": "quantitative", "axis": null}}}
  ]
 }
]
}
